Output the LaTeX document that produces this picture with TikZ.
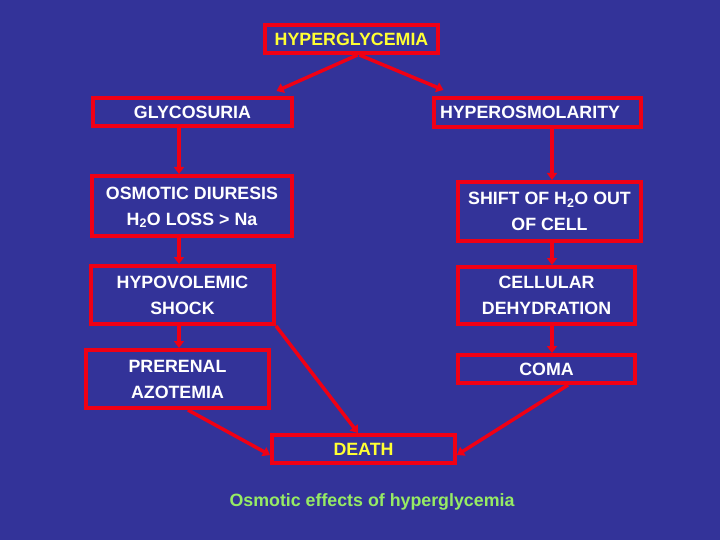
\documentclass[tikz,border=0pt]{standalone}
\usepackage{fontspec}
\setmainfont{Liberation Sans}
\usetikzlibrary{arrows.meta}
\definecolor{bg}{RGB}{51,51,153}
\definecolor{boxred}{RGB}{240,0,20}
\definecolor{ytext}{RGB}{255,255,51}
\definecolor{gtext}{RGB}{150,235,100}
\begin{document}
\begin{tikzpicture}[x=1pt,y=-1pt,
  box/.style={draw=boxred, line width=4pt, inner sep=0pt, align=center, text=white,
    font=\fontsize{17.8}{26}\selectfont\bfseries},
  twoline/.style={text depth=-4pt},
  conn/.style={draw=boxred, line width=3.5pt, -{Triangle[width=10pt,length=7pt]}}]
\fill[bg] (0,0) rectangle (720,540);
\useasboundingbox (0,0) rectangle (720,540);
\coordinate (colL) at (179,0);
\coordinate (colR) at (552,0);
\node[box, text=ytext, minimum width=173pt, minimum height=28pt] (hyper) at (351.5,39) {HYPERGLYCEMIA};
\node[box, minimum width=199pt, minimum height=28pt] (glyc) at (192.5,112) {GLYCOSURIA};
\node[box, minimum height=29pt, text width=195pt, inner xsep=6pt, align=left] (hosm) at (537.5,112.5) {HYPEROSMOLARITY};
\node[box, twoline, minimum width=200pt, minimum height=60pt] (osmd) at (192,206) {OSMOTIC DIURESIS\\H\textsubscript{2}O LOSS > Na};
\node[box, twoline, minimum width=183pt, minimum height=59pt] (shift) at (549.5,211.5) {SHIFT OF H\textsubscript{2}O OUT\\OF CELL};
\node[box, twoline, minimum width=183pt, minimum height=58pt] (hypov) at (182.5,295) {HYPOVOLEMIC\\SHOCK};
\node[box, twoline, minimum width=177pt, minimum height=57pt] (cell) at (546.5,295.5) {CELLULAR\\DEHYDRATION};
\node[box, twoline, minimum width=183pt, minimum height=58pt] (prer) at (177.5,379) {PRERENAL\\AZOTEMIA};
\node[box, minimum width=177pt, minimum height=28pt] (coma) at (546.5,369) {COMA};
\node[box, text=ytext, minimum width=183pt, minimum height=28pt] (death) at (363.5,449) {DEATH};
\node[text=gtext, font=\fontsize{17.8}{22}\selectfont\bfseries] (cap) at (372,502) {Osmotic effects of hyperglycemia};
\draw[conn] ([xshift=6pt]hyper.south) -- ([xshift=84pt,yshift=5pt]glyc.north);
\draw[conn] ([xshift=8pt]hyper.south) -- ([xshift=-94pt,yshift=6pt]hosm.north);
\draw[conn] (glyc.south -| colL) -- (osmd.north -| colL);
\draw[conn] (osmd.south -| colL) -- (hypov.north -| colL);
\draw[conn] (hypov.south -| colL) -- (prer.north -| colL);
\draw[conn] (hosm.south -| colR) -- (shift.north -| colR);
\draw[conn] (shift.south -| colR) -- (cell.north -| colR);
\draw[conn] (cell.south -| colR) -- (coma.north -| colR);
\draw[conn] (hypov.south east) -- ([xshift=-5.5pt]death.north);
\draw[conn] ([xshift=10.5pt]prer.south) -- ([yshift=-6pt]death.west);
\draw[conn] ([xshift=21.5pt]coma.south) -- ([yshift=-6pt]death.east);
\end{tikzpicture}
\end{document}
